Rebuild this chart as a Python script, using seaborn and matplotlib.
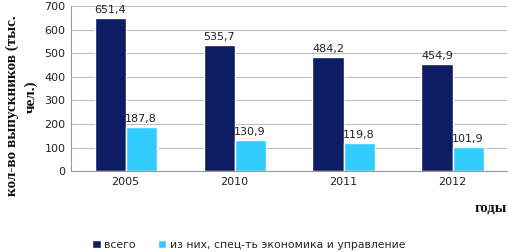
import matplotlib
matplotlib.use("Agg")
import matplotlib.pyplot as plt
import seaborn as sns
import pandas as pd

years = ["2005", "2010", "2011", "2012"]
total = [651.4, 535.7, 484.2, 454.9]
econ = [187.8, 130.9, 119.8, 101.9]
series_names = ["всего", "из них, спец-ть экономика и управление"]
colors = ["#0E1C64", "#33CCFF"]

df = pd.DataFrame({
    "year": years * 2,
    "value": total + econ,
    "series": [series_names[0]] * 4 + [series_names[1]] * 4,
})

sns.set_style("white")
plt.rcParams['font.family'] = ['DejaVu Sans']

W, H = 508, 252
fig = plt.figure(figsize=(W / 100, H / 100), dpi=100)
ax = fig.add_axes([0.14, 0.321, 0.858, 0.655])

sns.barplot(data=df, x="year", y="value", hue="series", palette=colors,
            width=0.57, ax=ax, saturation=1, legend=True)

for cont in ax.containers:
    labels = [f"{v:.1f}".replace(".", ",") for v in cont.datavalues]
    ax.bar_label(cont, labels=labels, fontsize=8, padding=2, color="#222222")

ax.set_ylim(0, 700)
ax.set_yticks(range(0, 701, 100))
ax.yaxis.grid(True, color="#BDBDBD", linewidth=0.8)
ax.set_axisbelow(True)
for s in ["top", "right"]:
    ax.spines[s].set_visible(False)
ax.spines["left"].set_color("#999999")
ax.spines["bottom"].set_color("#999999")
ax.tick_params(axis="both", labelsize=8, length=0, pad=4, colors="#222222")
ax.set_xlabel("")
ax.set_ylabel("")

serif = ["Liberation Serif", "DejaVu Serif"]
fig.text(12 / W, 1 - 106 / H, "кол-во выпускников (тыс.", rotation=90, fontsize=11,
         fontweight="bold", family=serif, ha="center", va="center", color="#111111")
fig.text(31 / W, 1 - 97 / H, "чел.)", rotation=90, fontsize=11,
         fontweight="bold", family=serif, ha="center", va="center", color="#111111")
fig.text(507 / W, 1 - 208 / H, "годы", fontsize=10.5, fontweight="bold", family=serif,
         ha="right", va="center", color="#111111")

handles, labels = ax.get_legend_handles_labels()
fig.legend(handles, labels, loc="center left", bbox_to_anchor=(92 / W, 1 - 245 / H), ncol=2,
           frameon=False, fontsize=7.8, handlelength=0.8, handleheight=0.8,
           columnspacing=2.0, handletextpad=0.35, borderaxespad=0, borderpad=0)
ax.get_legend().remove()

fig.savefig("out.png", dpi=100)
